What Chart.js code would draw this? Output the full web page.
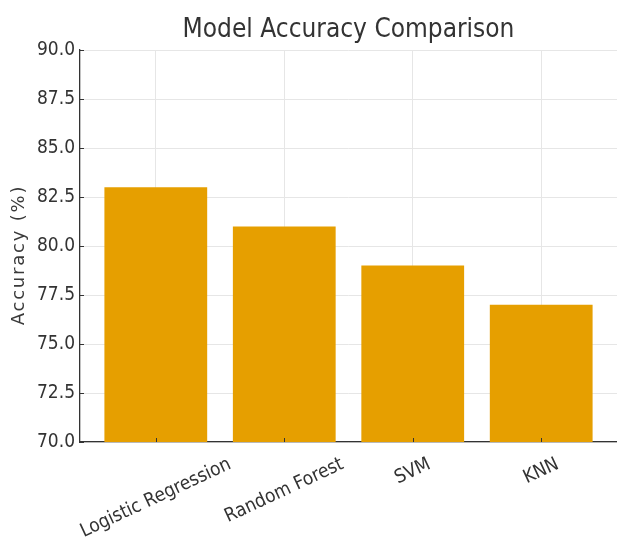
<!DOCTYPE html>
<html>
<head>
<meta charset="utf-8">
<script src="https://cdn.jsdelivr.net/npm/chart.js@4"></script>
<style>
  html, body { margin: 0; padding: 0; background: #ffffff; }
  #wrap { width: 617px; height: 548px; position: relative; }
</style>
</head>
<body>
<div id="wrap"><canvas id="c" width="617" height="548"></canvas></div>
<script>
const categories = ["Logistic Regression", "Random Forest", "SVM", "KNN"];
const accuracy = [83, 81, 79, 77];
const yTicks = [70.0, 72.5, 75.0, 77.5, 80.0, 82.5, 85.0, 87.5, 90.0];
const chartTitle = "Model Accuracy Comparison";
const yTitle = "Accuracy (%)";

const COND = "'DejaVu Sans Condensed', 'Liberation Sans Narrow', 'DejaVu Sans'";
const TEXT = "#333333";
const BAR = "#E69F00";
const GRID = "#e6e6e6";

const decorPlugin = {
  id: 'decor',
  afterDatasetsDraw(chart) {
    const ctx = chart.ctx;
    const area = chart.chartArea;
    const xs = chart.scales.x, ys = chart.scales.y;
    ctx.save();
    ctx.strokeStyle = TEXT;
    ctx.lineWidth = 1;
    yTicks.forEach(v => {
      const y = Math.round(ys.getPixelForValue(v)) + 0.5;
      ctx.beginPath(); ctx.moveTo(area.left, y); ctx.lineTo(area.left + 4, y); ctx.stroke();
    });
    categories.forEach((c, i) => {
      const x = Math.round(xs.getPixelForValue(i)) + 0.5;
      ctx.beginPath(); ctx.moveTo(x, area.bottom); ctx.lineTo(x, area.bottom - 4); ctx.stroke();
    });
    ctx.restore();
  },
  afterDraw(chart) {
    const ctx = chart.ctx;
    const area = chart.chartArea;
    const xs = chart.scales.x;
    ctx.save();
    // chart title centred over the plot area
    ctx.fillStyle = TEXT;
    ctx.font = "26px " + COND;
    ctx.textAlign = 'center';
    ctx.textBaseline = 'alphabetic';
    ctx.fillText(chartTitle, (area.left + area.right) / 2, 36.5);
    // y-axis title, letter-spaced
    ctx.save();
    ctx.font = "18px 'DejaVu Sans'";
    ctx.fillStyle = '#3a3a3a';
    try { ctx.letterSpacing = '1.8px'; } catch (e) {}
    ctx.textBaseline = 'middle';
    ctx.translate(19.5, (area.top + area.bottom) / 2 + 9);
    ctx.rotate(-Math.PI / 2);
    ctx.fillText(yTitle, 0, 0);
    ctx.restore();
    // rotated category labels, centred under each tick
    const theta = 25 * Math.PI / 180;
    ctx.font = "19px " + COND;
    ctx.textAlign = 'center';
    ctx.textBaseline = 'middle';
    ctx.fillStyle = TEXT;
    categories.forEach((c, i) => {
      const x = xs.getPixelForValue(i);
      const w = ctx.measureText(c).width;
      const h = 21;
      const bh = w * Math.sin(theta) + h * Math.cos(theta);
      const cy = area.bottom + 12 + bh / 2;
      ctx.save();
      ctx.translate(x, cy);
      ctx.rotate(-theta);
      ctx.fillText(c, 0, 0);
      ctx.restore();
    });
    ctx.restore();
  }
};

new Chart(document.getElementById('c'), {
  type: 'bar',
  data: {
    datasets: [{
      data: accuracy.map((v, i) => ({ x: i, y: v })),
      backgroundColor: BAR,
      borderWidth: 0,
      barPercentage: 0.8,
      categoryPercentage: 1.0
    }]
  },
  options: {
    responsive: false,
    animation: false,
    devicePixelRatio: 1,
    layout: { padding: { top: 50, right: 0, bottom: 0, left: 0 } },
    plugins: {
      legend: { display: false },
      title: { display: false },
      tooltip: { enabled: false }
    },
    scales: {
      x: {
        type: 'linear',
        offset: false,
        min: -0.59,
        max: 3.59,
        afterBuildTicks: (scale) => { scale.ticks = categories.map((c, i) => ({ value: i })); },
        afterFit: (scale) => { scale.height = 106; },
        ticks: { display: false },
        grid: { offset: false, color: GRID, lineWidth: 1, drawTicks: false },
        border: { display: true, color: TEXT, width: 1.3 }
      },
      y: {
        min: 70,
        max: 90,
        afterBuildTicks: (scale) => { scale.ticks = yTicks.map(v => ({ value: v })); },
        afterFit: (scale) => { scale.width = 80; },
        ticks: {
          padding: 5,
          color: TEXT,
          font: { family: COND, size: 19 },
          callback: (v) => Number(v).toFixed(1)
        },
        grid: { color: GRID, lineWidth: 1, drawTicks: false },
        border: { display: true, color: TEXT, width: 1.3 },
        title: { display: false }
      }
    }
  },
  plugins: [decorPlugin]
});
</script>
</body>
</html>
